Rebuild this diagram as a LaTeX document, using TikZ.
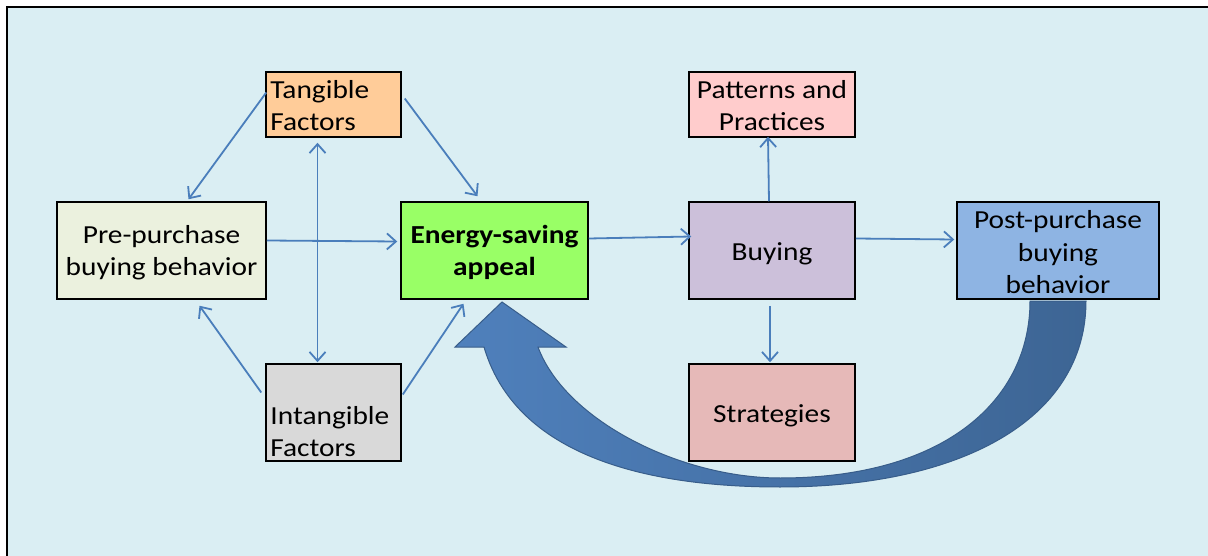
\documentclass[tikz,border=0pt]{standalone}
\usepackage{fontspec}
\setmainfont{Carlito}[FakeStretch=1.13]
\usetikzlibrary{arrows.meta,calc}

\definecolor{bgblue}{HTML}{DAEEF3}
\definecolor{linkblue}{HTML}{4A7EBB}
\definecolor{tangfill}{HTML}{FFCC99}
\definecolor{prefill}{HTML}{EBF1DE}
\definecolor{energyfill}{HTML}{99FF66}
\definecolor{intangfill}{HTML}{D9D9D9}
\definecolor{pattfill}{HTML}{FFCCCC}
\definecolor{buyfill}{HTML}{CCC0DA}
\definecolor{stratfill}{HTML}{E6B9B8}
\definecolor{postfill}{HTML}{8EB4E3}
\definecolor{bigarrowlight}{HTML}{4F80BC}
\definecolor{bigarrowdark}{HTML}{3D6594}
\definecolor{bigarrowedge}{HTML}{385D8A}

\begin{document}
\begin{tikzpicture}[x=1pt,y=-1pt,
  box/.style={draw=black, line width=1.5pt, inner sep=0pt},
  lbl/.style={inner sep=0pt, align=center, font=\fontsize{26}{32.5}\selectfont},
  conn/.style={draw=linkblue, line width=1.8pt,
               -{Straight Barb[length=9pt,width=16pt]}},
  biconn/.style={draw=linkblue, line width=1.8pt,
               {Straight Barb[length=9pt,width=16pt]}-{Straight Barb[length=9pt,width=16pt]}}
]
\useasboundingbox (0,0) rectangle (1208,556);
% panel
\fill[white] (0,0) rectangle (1208,556);
\fill[bgblue] (7,7) rectangle (1208,556);
\draw[black, line width=1.5pt] (7,556) -- (7,7) -- (1208,7);

% boxes
\node[box, fill=tangfill, minimum width=135pt, minimum height=65pt] (tang) at (333.5,104.5) {};
\node[box, fill=prefill, minimum width=209pt, minimum height=97pt] (pre) at (161.5,250.5) {};
\node[box, fill=energyfill, minimum width=187pt, minimum height=97pt] (energy) at (494.5,250.5) {};
\node[box, fill=intangfill, minimum width=135pt, minimum height=97pt] (intang) at (333.5,412.5) {};
\node[box, fill=pattfill, minimum width=166pt, minimum height=65pt] (patt) at (772,104.5) {};
\node[box, fill=buyfill, minimum width=166pt, minimum height=97pt] (buy) at (772,250.5) {};
\node[box, fill=stratfill, minimum width=166pt, minimum height=97pt] (strat) at (772,412.5) {};
\node[box, fill=postfill, minimum width=202pt, minimum height=97pt] (post) at (1058,250.5) {};

% box texts
\node[lbl, align=left, anchor=west] (tangtxt) at ($(tang.west)+(5,1)$) {Tangible\\Factors};
\node[lbl] (pretxt) at ($(pre.center)+(0,2)$) {Pre-purchase\\buying behavior};
\node[lbl, font=\fontsize{26}{32.5}\selectfont\bfseries] (energytxt) at ($(energy.center)+(0,2)$) {Energy-saving\\appeal};
\node[lbl, align=left, anchor=west] (intangtxt) at ($(intang.west)+(5,19)$) {Intangible\\Factors};
\node[lbl] (patttxt) at ($(patt.center)+(0,1)$) {Patterns and\\Practices};
\node[lbl] (buytxt) at ($(buy.center)+(0,3)$) {Buying};
\node[lbl] (strattxt) at ($(strat.center)+(0,3)$) {Strategies};
\node[lbl] (posttxt) at ($(post.center)+(0,2)$) {Post-purchase\\buying\\behavior};

% connectors
\draw[conn] ($(tang.west)+(1,-12)$) -- ($(pre.north)+(27,-2)$);
\draw[conn] ($(tang.east)+(3,-6)$) -- ($(energy.north)+(-17,-5)$);
\draw[conn] ($(pre.east)+(0,-10)$) -- ($(energy.west)+(-3,-9)$);
\draw[biconn] ($(tang.south)+(-16,5)$) -- ($(intang.north)+(-16,-1)$);
\draw[conn] ($(intang.west)+(-4,-20)$) -- ($(pre.south)+(38,6)$);
\draw[conn] ($(intang.east)+(1,-18)$) -- ($(energy.south)+(-31,4)$);
\draw[conn] ($(energy.east)+(0,-12)$) -- ($(buy.west)+(3,-14)$);
\draw[conn] ($(buy.east)+(0,-12)$) -- ($(post.west)+(-2,-11)$);
\draw[conn] ($(buy.north)+(-3,0)$) -- ($(patt.south)+(-4,-1)$);
\draw[conn] ($(buy.south)+(-2,6)$) -- ($(strat.north)+(-2,-1)$);

% curved feedback arrow from post-purchase back to the appeal
\path[draw=bigarrowedge, line width=1pt, left color=bigarrowlight, right color=bigarrowdark]
  (566,347) -- (502,302) -- (455,347) -- (484,347)
  .. controls (520,470) and (680,487) .. (780,487)
  .. controls (960,487) and (1086,420) .. (1086,301)
  -- (1030,301)
  .. controls (1030,400) and (945,478) .. (780,478)
  .. controls (680,478) and (565,420) .. (538,347)
  -- cycle;
\end{tikzpicture}
\end{document}
